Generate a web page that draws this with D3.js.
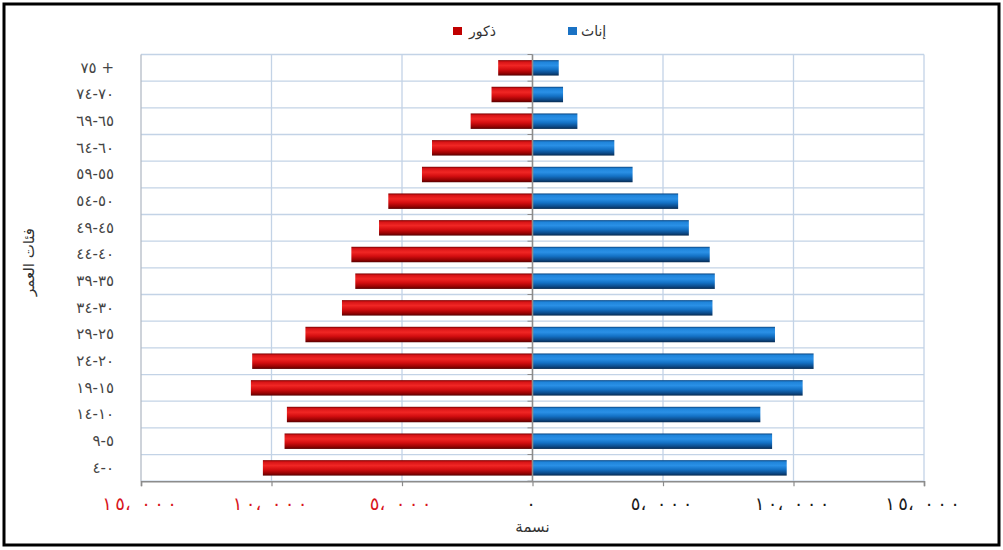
<!DOCTYPE html>
<html lang="ar">
<head>
<meta charset="utf-8">
<script src="https://cdn.jsdelivr.net/npm/d3@7"></script>
<style>
  html, body { margin: 0; padding: 0; background: #fff; }
  svg { display: block; }
  .num { unicode-bidi: bidi-override; direction: ltr; }
</style>
</head>
<body>
<svg id="chart" width="1003" height="550"></svg>
<script>
// Age groups, youngest first
const categories = ["٤-٠", "٩-٥", "١٤-١٠", "١٩-١٥", "٢٤-٢٠", "٢٩-٢٥", "٣٤-٣٠", "٣٩-٣٥",
                    "٤٤-٤٠", "٤٩-٤٥", "٥٤-٥٠", "٥٩-٥٥", "٦٤-٦٠", "٦٩-٦٥", "٧٤-٧٠", "٧٥ +"];
// Population by age group
const males   = [10330, 9500, 9410, 10790, 10740, 8700, 7300, 6790, 6940, 5880, 5525, 4235, 3850, 2370, 1570, 1315];
const females = [9740, 9180, 8730, 10350, 10770, 9290, 6895, 6985, 6790, 5990, 5580, 3835, 3135, 1720, 1170, 1005];
const tickValues = [-15000, -10000, -5000, 0, 5000, 10000, 15000];
const seriesNames = ["ذكور", "إناث"];
const xTitle = "نسمة";
const yTitle = "فئات العمر";

const svg = d3.select("#chart");
const W = 1003, H = 550;
const plot = { left: 141, right: 924, top: 54.5, bottom: 481.2 };

// outer frame
svg.append("rect").attr("x", 4).attr("y", 4).attr("width", W - 8).attr("height", H - 9)
  .attr("fill", "#fff").attr("stroke", "#000").attr("stroke-width", 3);

const defs = svg.append("defs");
function barGradient(id, stops) {
  const g = defs.append("linearGradient").attr("id", id)
    .attr("x1", 0).attr("y1", 0).attr("x2", 0).attr("y2", 1);
  stops.forEach(([o, c]) => g.append("stop").attr("offset", o).attr("stop-color", c));
}
barGradient("gMale", [[0, "#7a0000"], [0.12, "#d81416"], [0.35, "#f02624"], [0.6, "#d40e10"], [0.85, "#960202"], [1, "#560000"]]);
barGradient("gFemale", [[0, "#0a4580"], [0.12, "#1f84da"], [0.35, "#2a90e6"], [0.6, "#1472c6"], [0.85, "#0c4987"], [1, "#062a50"]]);

const x = d3.scaleLinear().domain([-15000, 15000]).range([plot.left, plot.right]);
const rows = d3.scaleBand().domain(categories).range([plot.bottom, plot.top]);
const y = d3.scaleBand().domain(categories).range([plot.bottom, plot.top])
  .paddingInner(0.42).paddingOuter(0.21);

const arFmt = d3.formatLocale({
  decimal: "٫", thousands: "،", grouping: [3], currency: ["", ""],
  numerals: ["٠", "١", "٢", "٣", "٤", "٥", "٦", "٧", "٨", "٩"]
}).format(",");

const gridColor = "#c3d3e6";
// horizontal grid lines at row boundaries
const boundaries = categories.map(c => rows(c)).concat([plot.bottom]);
svg.append("g").selectAll("line").data(boundaries).join("line")
  .attr("x1", plot.left).attr("x2", plot.right)
  .attr("y1", d => d).attr("y2", d => d)
  .attr("stroke", gridColor).attr("stroke-width", 1.3);
// vertical grid lines
svg.append("g").selectAll("line").data(tickValues.filter(v => v !== 0)).join("line")
  .attr("x1", d => x(d)).attr("x2", d => x(d))
  .attr("y1", plot.top).attr("y2", plot.bottom)
  .attr("stroke", d => d === -15000 ? "#b4bcc6" : gridColor).attr("stroke-width", 1.3);

// bars
const bars = svg.append("g");
bars.selectAll("rect.m").data(categories).join("rect").attr("class", "m")
  .attr("x", (d, i) => x(-males[i])).attr("width", (d, i) => x(0) - x(-males[i]))
  .attr("y", d => y(d)).attr("height", y.bandwidth())
  .attr("fill", "url(#gMale)");
bars.selectAll("rect.f").data(categories).join("rect").attr("class", "f")
  .attr("x", x(0)).attr("width", (d, i) => x(females[i]) - x(0))
  .attr("y", d => y(d)).attr("height", y.bandwidth())
  .attr("fill", "url(#gFemale)");

// centre category axis with tick marks at row boundaries
svg.append("line").attr("x1", x(0)).attr("x2", x(0)).attr("y1", plot.top).attr("y2", plot.bottom)
  .attr("stroke", "#8c8c8c").attr("stroke-width", 1.6);
svg.append("g").selectAll("line").data(boundaries).join("line")
  .attr("x1", x(0) - 5).attr("x2", x(0))
  .attr("y1", d => d).attr("y2", d => d)
  .attr("stroke", "#8c8c8c").attr("stroke-width", 1);

// bottom value axis
const xAxis = svg.append("g").attr("transform", `translate(0,${plot.bottom})`)
  .call(d3.axisBottom(x).tickValues(tickValues).tickSize(5).tickPadding(11)
    .tickFormat(v => arFmt(Math.abs(v))));
xAxis.select(".domain").attr("stroke", "#8c8c8c").attr("stroke-width", 1.6);
xAxis.selectAll(".tick line").attr("stroke", "#8c8c8c").attr("stroke-width", 1.2);
// spread the glyphs of each value label evenly (one tspan per character)
const adv = 13;
xAxis.selectAll(".tick text")
  .attr("font-family", "DejaVu Sans").attr("font-size", 18)
  .attr("text-anchor", "middle")
  .attr("fill", d => d < 0 ? "#d8141c" : "#1a1a1a")
  .each(function () {
    const t = d3.select(this);
    const chars = Array.from(t.text());
    t.text(null);
    const n = chars.length;
    chars.forEach((c, i) => {
      const off = (c === "،") ? -5 : 0;
      t.append("tspan")
        .attr("x", (i - (n - 1) / 2) * adv - 2 + off)
        .text(c);
    });
  });

// category labels on the left
const yAxis = svg.append("g").attr("transform", `translate(${plot.left},0)`)
  .call(d3.axisLeft(rows).tickSize(0).tickPadding(27));
yAxis.select(".domain").remove();
yAxis.selectAll(".tick text")
  .attr("class", "num")
  .attr("font-family", "DejaVu Sans").attr("font-size", 15)
  .attr("fill", "#444");

// axis titles
svg.append("text").attr("x", x(0)).attr("y", 532).attr("text-anchor", "middle")
  .attr("font-family", "DejaVu Sans").attr("font-size", 15).attr("fill", "#333")
  .text(xTitle);
svg.append("text").attr("transform", "translate(34,262) rotate(-90)").attr("text-anchor", "middle")
  .attr("font-family", "DejaVu Sans").attr("font-size", 15).attr("fill", "#333")
  .text(yTitle);

// legend
const legend = [
  { name: seriesNames[0], color: "#c00000", sx: 453, tx: 469 },
  { name: seriesNames[1], color: "#1a72c4", sx: 568, tx: 581 }
];
const lg = svg.append("g");
lg.selectAll("rect").data(legend).join("rect")
  .attr("x", d => d.sx).attr("y", 27).attr("width", 9).attr("height", 8)
  .attr("fill", d => d.color);
lg.selectAll("text").data(legend).join("text")
  .attr("x", d => d.tx).attr("y", 36).attr("text-anchor", "start")
  .attr("font-family", "DejaVu Sans").attr("font-size", 14).attr("fill", "#333")
  .text(d => d.name);
</script>
</body>
</html>
